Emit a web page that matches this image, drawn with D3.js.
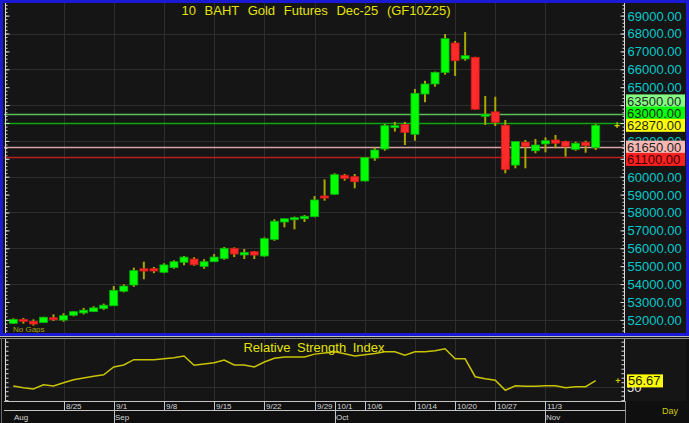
<!DOCTYPE html>
<html><head><meta charset="utf-8">
<script src="https://cdn.jsdelivr.net/npm/d3@7"></script>
<style>
html,body{margin:0;padding:0;background:#0e0e0e;}
svg{display:block;font-family:"Liberation Sans",Arial,sans-serif;}
</style>
</head><body>
<svg id="c" width="689" height="423"></svg>
<script>
// ---------- DATA ----------
const dates = [
 "2025-08-18","2025-08-19","2025-08-20","2025-08-21","2025-08-22",
 "2025-08-25","2025-08-26","2025-08-27","2025-08-28","2025-08-29",
 "2025-09-01","2025-09-02","2025-09-03","2025-09-04","2025-09-05",
 "2025-09-08","2025-09-09","2025-09-10","2025-09-11","2025-09-12",
 "2025-09-15","2025-09-16","2025-09-17","2025-09-18","2025-09-19",
 "2025-09-22","2025-09-23","2025-09-24","2025-09-25","2025-09-26",
 "2025-09-29","2025-09-30","2025-10-01","2025-10-02","2025-10-03",
 "2025-10-06","2025-10-07","2025-10-08","2025-10-09","2025-10-10",
 "2025-10-14","2025-10-15","2025-10-16","2025-10-17",
 "2025-10-20","2025-10-21","2025-10-22","2025-10-24",
 "2025-10-27","2025-10-28","2025-10-29","2025-10-30","2025-10-31",
 "2025-11-03","2025-11-04","2025-11-05","2025-11-06","2025-11-07",
 "2025-11-10"];
const openV = [51810,52030,51920,51850,52120,51990,52260,52390,52460,52630,
 52790,53600,53950,54860,54860,54660,54920,55220,55400,54990,
 55250,55420,56000,55630,55810,55570,56500,57470,57620,57650,
 57770,58920,59020,60080,60000,59760,61040,61550,62740,62910,
 62370,64620,65180,65830,67470,66580,66670,63380,63620,62870,
 60650,61920,61450,61830,62050,61960,61530,61920,61640];
const highV = [52090,52110,52030,52170,52310,52370,52500,52670,52760,52910,
 53890,53990,54920,55250,54960,55160,55330,55570,55500,55390,
 55680,56070,56050,55960,55850,56610,57620,57650,57770,57860,
 58920,59850,60190,60150,60150,61100,61640,62940,63060,63060,
 64900,65360,65870,67970,67580,68080,66700,64510,64470,63170,
 61960,62050,62110,62200,62330,62010,61960,62010,62940];
const lowV = [51770,51790,51680,51830,51940,51900,52200,52310,52460,52560,
 52790,53540,53850,54270,54610,54610,54860,55050,55030,54860,
 55250,55360,55510,55400,55400,55530,56420,57170,57060,57470,
 57730,58660,58980,59780,59350,59740,60890,61450,62520,61770,
 62010,64160,65030,65700,65630,66480,63750,62890,62830,60190,
 60470,60470,61310,61360,61590,61120,61450,61340,61490];
const closeV = [52030,51920,51770,52150,52010,52240,52460,52540,52670,52820,
 53650,53890,54750,54730,54730,55070,55250,55510,55080,55250,
 55510,56000,55680,55760,55620,56540,57510,57650,57710,57790,
 58700,58830,60110,59910,59720,61070,61490,62850,62850,62480,
 64660,65180,65830,67710,66480,66760,63770,63490,63040,60410,
 61960,61680,61770,62010,61870,61680,61870,61730,62870];
const rsiV = [50.8,48.9,47.4,52.2,50.8,54.4,57.8,59.7,61.6,63.3,
 71.9,74.1,80,80,80,81.1,82.2,84.1,73.8,75.2,
 76.7,79.7,74.1,74.1,71.9,77.4,81.5,83,83,83,
 86.2,87.5,88.9,86.5,84.1,85.5,87,88.9,88.9,85,
 88.9,88.9,90,92.2,81,81,61.1,58.8,57.1,46,
 51.1,50.4,50.4,51.1,51.1,48.9,50,50,56.67];

const title = "10 BAHT Gold Futures Dec-25 (GF10Z25)";
const rsiTitle = "Relative Strength Index";
const priceTickValues = d3.range(52000, 69001, 1000);
const priceGridValues = d3.range(52000, 69001, 2000);
const levelValues = [63500, 63000, 62870, 61650, 61100];
const levelFill = ["#84ff84", "#00ff00", "#ffff00", "#ffb6b6", "#ff2020"];
const levelLine = ["#5cbf5c", "#10a810", null, "#d9a3a3", "#b82020"];
const lastPrice = 62870;
const lastRsi = 56.67;
const rsiLabelValues = [50];
const dayTickDates = ["2025-08-25","2025-09-01","2025-09-08","2025-09-15","2025-09-22","2025-09-29","2025-10-01","2025-10-06","2025-10-14","2025-10-20","2025-10-27","2025-11-03"];
const dayTickLabels = ["8/25","9/1","9/8","9/15","9/22","9/29","10/1","10/6","10/14","10/20","10/27","11/3"];
const gridDates = ["2025-08-25","2025-09-01","2025-09-08","2025-09-15","2025-09-22","2025-09-29","2025-10-06","2025-10-14","2025-10-20","2025-10-27","2025-11-03"];
const monthTickDates = ["2025-08-18","2025-09-01","2025-10-01","2025-11-03"];
const monthTickLabels = ["Aug","Sep","Oct","Nov"];

// ---------- LAYOUT ----------
const svg = d3.select("#c");
const P = {l:4, r:624, t:3, b:333};
const R = {t:339, b:401};
const x = d3.scaleBand().domain(dates).range([8.3, 600.7]).padding(0);
const cx = d => x(d) + x.bandwidth()/2;
const y = d3.scaleLinear().domain([52000, 69000]).range([319.9, 15.6]);
const yr = d3.scaleLinear().domain([0, 100]).range([431.7, 341.7]);
const grid = "#2e2e2e";

svg.append("rect").attr("width",689).attr("height",423).attr("fill","#0f0f0f");
svg.append("rect").attr("x",3).attr("y",3).attr("width",683).attr("height",331).attr("fill","#151515");

svg.append("defs").append("clipPath").attr("id","pc").append("rect")
  .attr("x",P.l).attr("y",P.t).attr("width",P.r-P.l).attr("height",P.b-P.t);
const gP = svg.append("g").attr("clip-path","url(#pc)");

gP.selectAll(".hg").data(priceGridValues).join("line")
  .attr("x1",P.l).attr("x2",P.r).attr("y1",d=>Math.round(y(d))+0.5).attr("y2",d=>Math.round(y(d))+0.5)
  .attr("stroke",grid);
gP.selectAll(".vg").data(gridDates).join("line")
  .attr("x1",d=>Math.round(cx(d))+0.5).attr("x2",d=>Math.round(cx(d))+0.5).attr("y1",P.t).attr("y2",P.b)
  .attr("stroke",grid);

const lvl = levelValues.map((v,i)=>({v, fill:levelFill[i], line:levelLine[i]}));
gP.selectAll(".lv").data(lvl.filter(d=>d.line)).join("line")
  .attr("x1",P.l).attr("x2",P.r).attr("y1",d=>Math.round(y(d.v))+0.5).attr("y2",d=>Math.round(y(d.v))+0.5)
  .attr("stroke",d=>d.line).attr("stroke-width",1.6);

const candles = dates.map((d,i)=>({d, o:openV[i], h:highV[i], l:lowV[i], c:closeV[i]}));
gP.selectAll(".wk").data(candles).join("line")
  .attr("x1",d=>cx(d.d)).attr("x2",d=>cx(d.d)).attr("y1",d=>y(d.h)).attr("y2",d=>y(d.l))
  .attr("stroke","#a8a800").attr("stroke-width",2);
gP.selectAll(".bd").data(candles).join("rect")
  .attr("x",d=>cx(d.d)-4).attr("width",8)
  .attr("y",d=>y(Math.max(d.o,d.c)))
  .attr("height",d=>Math.max(2, Math.abs(y(d.o)-y(d.c))))
  .attr("fill",d=>d.c>=d.o?"#00ff00":"#ff2a2a")
  .attr("stroke",d=>d.c>=d.o?"#00b400":"#d01818").attr("stroke-width",0.8);

svg.append("text").attr("x",316).attr("y",15).attr("text-anchor","middle")
  .attr("font-size",13).attr("word-spacing",5).attr("fill","#e2e200").text(title);

svg.append("text").attr("x",13).attr("y",332).attr("font-size",8).attr("fill","#a8a400").text("No Gaps");

// level label positions, stacked around last price
const anchorIdx = levelValues.indexOf(lastPrice);
const gap = 12.2, boxH = 13;
const lblY = levelValues.map(v=>y(v));
for (let i=anchorIdx-1;i>=0;i--) lblY[i] = Math.min(lblY[i], lblY[i+1]-gap);
for (let i=anchorIdx+1;i<levelValues.length;i++) lblY[i] = Math.max(lblY[i], lblY[i-1]+gap);
const covered = v => {
  const t = y(v)-5, b = y(v)+5;
  const inBox = p => lblY.some(c => p >= c-boxH/2 && p <= c+boxH/2);
  return inBox(t) && inBox(b);
};

// axes lines & ticks
svg.append("line").attr("x1",624.5).attr("x2",624.5).attr("y1",P.t).attr("y2",P.b).attr("stroke","#d8d8d8");
svg.append("line").attr("x1",5.5).attr("x2",5.5).attr("y1",P.t).attr("y2",P.b).attr("stroke","#d8d8d8");
const minorP = d3.range(51400, 69801, 200);
svg.append("g").attr("transform","translate(624.5,0)")
  .call(d3.axisRight(y).tickValues(minorP).tickSize(-2).tickFormat(""))
  .call(g=>{g.select(".domain").remove(); g.selectAll("line").attr("stroke","#d8d8d8");});
svg.append("g").attr("transform","translate(5.5,0)")
  .call(d3.axisLeft(y).tickValues(minorP).tickSize(-2).tickFormat(""))
  .call(g=>{g.select(".domain").remove(); g.selectAll("line").attr("stroke","#d8d8d8");});
svg.append("g").attr("transform","translate(5.5,0)")
  .call(d3.axisLeft(y).tickValues(priceTickValues).tickSize(-4).tickFormat(""))
  .call(g=>{g.select(".domain").remove(); g.selectAll("line").attr("stroke","#d8d8d8");});
svg.append("g").attr("transform","translate(624.5,0)")
  .call(d3.axisRight(y).tickValues(priceTickValues).tickSize(-4).tickPadding(3)
        .tickFormat(v => covered(v) ? "" : d3.format(".2f")(v)))
  .call(g=>{g.select(".domain").remove();
    g.selectAll("line").attr("stroke","#d8d8d8");
    g.selectAll("text").attr("fill","#00c8c8").attr("font-size",13).attr("font-family","Liberation Sans, Arial, sans-serif").attr("dy","0.34em");});

const gL = svg.append("g");
levelValues.forEach((v,i)=>{
  gL.append("rect").attr("x",626).attr("y",lblY[i]-boxH/2).attr("width",59).attr("height",boxH).attr("fill",levelFill[i]);
  gL.append("text").attr("x",627).attr("y",lblY[i]).attr("dy","0.36em").attr("font-size",13)
    .attr("fill", i===4 ? "#3a0000" : "#1e2a1e").text(d3.format(".2f")(v));
});
svg.append("text").attr("x",617).attr("y",y(lastPrice)).attr("dy","0.35em").attr("text-anchor","middle")
  .attr("font-size",10).attr("font-weight","bold").attr("fill","#d0d000").text("+");

svg.append("rect").attr("x",1.5).attr("y",1.5).attr("width",686).attr("height",333)
  .attr("fill","none").attr("stroke","#1a1ad2").attr("stroke-width",3);
svg.append("line").attr("x1",0).attr("x2",689).attr("y1",336.5).attr("y2",336.5).attr("stroke","#bdbdbd");

// ---------- RSI PANEL ----------
svg.append("rect").attr("x",0).attr("y",337).attr("width",689).attr("height",86).attr("fill","#0f0f0f");
svg.append("rect").attr("x",4).attr("y",R.t).attr("width",682).attr("height",R.b-R.t).attr("fill","#151515");
svg.append("line").attr("x1",0).attr("x2",689).attr("y1",338.5).attr("y2",338.5).attr("stroke","#8a8a8a");
svg.append("line").attr("x1",1.5).attr("x2",1.5).attr("y1",338).attr("y2",423).attr("stroke","#6a6a6a");
svg.append("defs").append("clipPath").attr("id","rc").append("rect")
  .attr("x",P.l).attr("y",R.t).attr("width",P.r-P.l).attr("height",R.b-R.t);
const gR = svg.append("g").attr("clip-path","url(#rc)");
gR.selectAll(".rh").data(rsiLabelValues).join("line")
  .attr("x1",P.l).attr("x2",P.r).attr("y1",d=>Math.round(yr(d))+0.5).attr("y2",d=>Math.round(yr(d))+0.5).attr("stroke",grid);
gR.selectAll(".rv").data(gridDates).join("line")
  .attr("x1",d=>Math.round(cx(d))+0.5).attr("x2",d=>Math.round(cx(d))+0.5).attr("y1",R.t).attr("y2",R.b).attr("stroke",grid);
gR.append("path").datum(dates.map((d,i)=>[d,rsiV[i]]))
  .attr("fill","none").attr("stroke","#c8c400").attr("stroke-width",1.5)
  .attr("d", d3.line().x(d=>cx(d[0])).y(d=>yr(d[1])));
svg.append("text").attr("x",314).attr("y",352).attr("text-anchor","middle")
  .attr("font-size",13).attr("word-spacing",3).attr("fill","#e2e200").text(rsiTitle);

const rsiTicks = d3.range(35, 101, 5);
svg.append("line").attr("x1",624.5).attr("x2",624.5).attr("y1",R.t).attr("y2",R.b).attr("stroke","#d8d8d8");
svg.append("line").attr("x1",5.5).attr("x2",5.5).attr("y1",R.t).attr("y2",R.b).attr("stroke","#d8d8d8");
svg.append("g").attr("transform","translate(624.5,0)")
  .call(d3.axisRight(yr).tickValues(rsiTicks).tickSize(-3).tickFormat(""))
  .call(g=>{g.select(".domain").remove(); g.selectAll("line").attr("stroke","#d8d8d8");});
svg.append("g").attr("transform","translate(5.5,0)")
  .call(d3.axisLeft(yr).tickValues(rsiTicks).tickSize(-3).tickFormat(""))
  .call(g=>{g.select(".domain").remove(); g.selectAll("line").attr("stroke","#d8d8d8");});
svg.selectAll(".rl").data(rsiLabelValues).join("text")
  .attr("x",627).attr("y",d=>yr(d)).attr("dy","0.4em").attr("font-size",13).attr("fill","#e0e0e0").text(d=>d);
svg.append("rect").attr("x",627).attr("y",yr(lastRsi)-6.3).attr("width",36).attr("height",13).attr("fill","#ffff00");
svg.append("text").attr("x",628).attr("y",yr(lastRsi)).attr("dy","0.36em").attr("font-size",13).attr("fill","#202000").text(d3.format(".2f")(lastRsi));
svg.append("text").attr("x",618).attr("y",yr(lastRsi)).attr("dy","0.35em").attr("text-anchor","middle")
  .attr("font-size",9).attr("font-weight","bold").attr("fill","#d0d000").text("+");

// ---------- DATE AXIS ----------
const ax = "#c4c4c4";
svg.append("line").attr("x1",4).attr("x2",625).attr("y1",401.5).attr("y2",401.5).attr("stroke",ax);
svg.append("line").attr("x1",4).attr("x2",625).attr("y1",410.5).attr("y2",410.5).attr("stroke",ax);
svg.append("line").attr("x1",625.5).attr("x2",625.5).attr("y1",401).attr("y2",423).attr("stroke","#8a8a8a");
svg.selectAll(".dt").data(dayTickDates).join("line")
  .attr("x1",d=>Math.round(cx(d))+0.5).attr("x2",d=>Math.round(cx(d))+0.5).attr("y1",401).attr("y2",410).attr("stroke",ax);
svg.selectAll(".dl").data(dayTickDates).join("text")
  .attr("x",d=>Math.round(cx(d))+2).attr("y",409).attr("font-size",8).attr("fill","#d6d6d6")
  .text((d,i)=>dayTickLabels[i]);
svg.selectAll(".mt").data(monthTickDates.slice(1)).join("line")
  .attr("x1",d=>Math.round(cx(d))+0.5).attr("x2",d=>Math.round(cx(d))+0.5).attr("y1",410).attr("y2",423).attr("stroke",ax);
svg.selectAll(".ml").data(monthTickDates).join("text")
  .attr("x",d=>Math.round(cx(d))+1).attr("y",420).attr("font-size",8).attr("fill","#d6d6d6")
  .text((d,i)=>monthTickLabels[i]);
svg.append("text").attr("x",662).attr("y",414).attr("font-size",9).attr("fill","#cccc00").text("Day");
</script>
</body></html>
